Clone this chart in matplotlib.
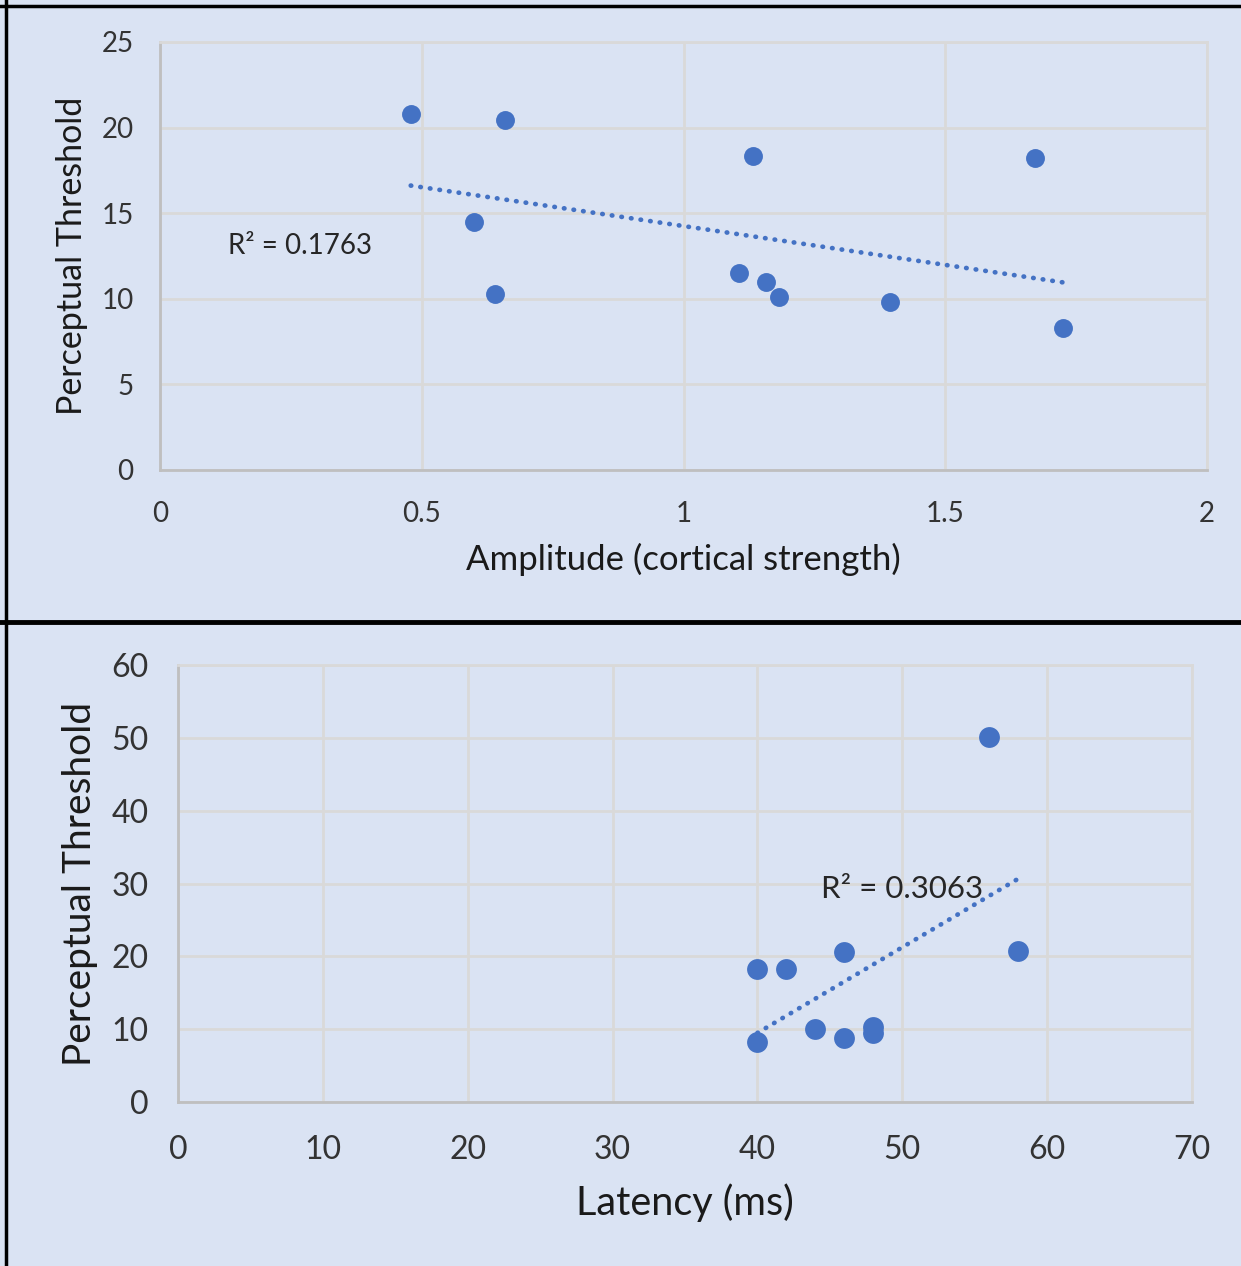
import numpy as np
import matplotlib.pyplot as plt
from matplotlib.lines import Line2D

# donnees
amplitude = [0.479, 0.659, 0.600, 0.640, 1.133, 1.106, 1.158, 1.182, 1.394, 1.671, 1.725]
threshold_amp = [20.8, 20.45, 14.5, 10.3, 18.35, 11.5, 11.0, 10.1, 9.8, 18.25, 8.3]

latency = [40, 42, 46, 56, 58, 40, 44, 46, 48, 48]
threshold_lat = [18.3, 18.3, 20.6, 50.1, 20.7, 8.2, 10.0, 8.8, 10.3, 9.5]

r2_amp = "R² = 0.1763"
r2_lat = "R² = 0.3063"

bg = '#DAE3F3'
blue = '#4472C4'
grid_c = '#D9D9D9'
spine_c = '#BFBFBF'

plt.rcParams['font.family'] = ['Lato', 'DejaVu Sans']

fig = plt.figure(figsize=(12.41, 12.66), dpi=100)
fig.patch.set_facecolor(bg)

# cadres noirs
fig.add_artist(Line2D([0, 1], [1 - 6/1266, 1 - 6/1266], color='black', lw=2.5))
fig.add_artist(Line2D([6/1241, 6/1241], [0, 1], color='black', lw=2.5))
fig.add_artist(Line2D([0, 1], [1 - 622/1266, 1 - 622/1266], color='black', lw=3.5))


def style_axes(ax):
    ax.set_facecolor(bg)
    ax.grid(True, color=grid_c, lw=2, zorder=0)
    ax.set_axisbelow(True)
    for s in ['top', 'right']:
        ax.spines[s].set_color(grid_c)
        ax.spines[s].set_linewidth(2)
    for s in ['left', 'bottom']:
        ax.spines[s].set_color(spine_c)
        ax.spines[s].set_linewidth(2)
    ax.tick_params(length=0, colors='#333333')


def trend(ax, x, y):
    # droite de regression (pointilles)
    x = np.asarray(x)
    p = np.polyfit(x, y, 1)
    xs = np.array([x.min(), x.max()])
    ax.plot(xs, np.polyval(p, xs), color=blue, lw=3.4, dashes=(0.1, 1.95),
            dash_capstyle='round', zorder=2)


# --- graphique du haut ---
ax1 = fig.add_axes([160/1241, 1 - 470/1266, 1047/1241, 428/1266])
style_axes(ax1)
ax1.set_xlim(0, 2)
ax1.set_ylim(0, 25)
ax1.set_xticks([0, 0.5, 1, 1.5, 2])
ax1.set_xticklabels(['0', '0.5', '1', '1.5', '2'])
ax1.set_yticks([0, 5, 10, 15, 20, 25])
ax1.tick_params(axis='x', labelsize=20, pad=22)
ax1.tick_params(axis='y', labelsize=20, pad=19)
ax1.scatter(amplitude, threshold_amp, s=185, color=blue, zorder=3, linewidths=0)
trend(ax1, amplitude, threshold_amp)
ax1.text(0.13, 13.1, r2_amp, fontsize=20, color='#262626', ha='left', va='center')
ax1.set_xlabel('Amplitude (cortical strength)', fontsize=25, color='#1a1a1a')
ax1.xaxis.set_label_coords(0.5, -0.21)
ax1.xaxis.label.set_va('center')
ax1.set_ylabel('Perceptual Threshold', fontsize=24.5, color='#1a1a1a')
ax1.yaxis.set_label_coords(-0.084, 0.5)
ax1.yaxis.label.set_va('center')

# --- graphique du bas ---
ax2 = fig.add_axes([178/1241, 1 - 1102/1266, 1014/1241, 437/1266])
style_axes(ax2)
ax2.set_xlim(0, 70)
ax2.set_ylim(0, 60)
ax2.set_xticks(range(0, 71, 10))
ax2.set_yticks(range(0, 61, 10))
ax2.tick_params(axis='x', labelsize=23, pad=24)
ax2.tick_params(axis='y', labelsize=23, pad=21)
ax2.scatter(latency, threshold_lat, s=225, color=blue, zorder=3, linewidths=0)
trend(ax2, latency, threshold_lat)
ax2.text(44.4, 29.2, r2_lat, fontsize=22.5, color='#262626', ha='left', va='center')
ax2.set_xlabel('Latency (ms)', fontsize=28.5, color='#1a1a1a')
ax2.xaxis.set_label_coords(0.5, -0.231)
ax2.xaxis.label.set_va('center')
ax2.set_ylabel('Perceptual Threshold', fontsize=28, color='#1a1a1a')
ax2.yaxis.set_label_coords(-0.0966, 0.5)
ax2.yaxis.label.set_va('center')

fig.savefig('out.png', dpi=100, facecolor=bg)
